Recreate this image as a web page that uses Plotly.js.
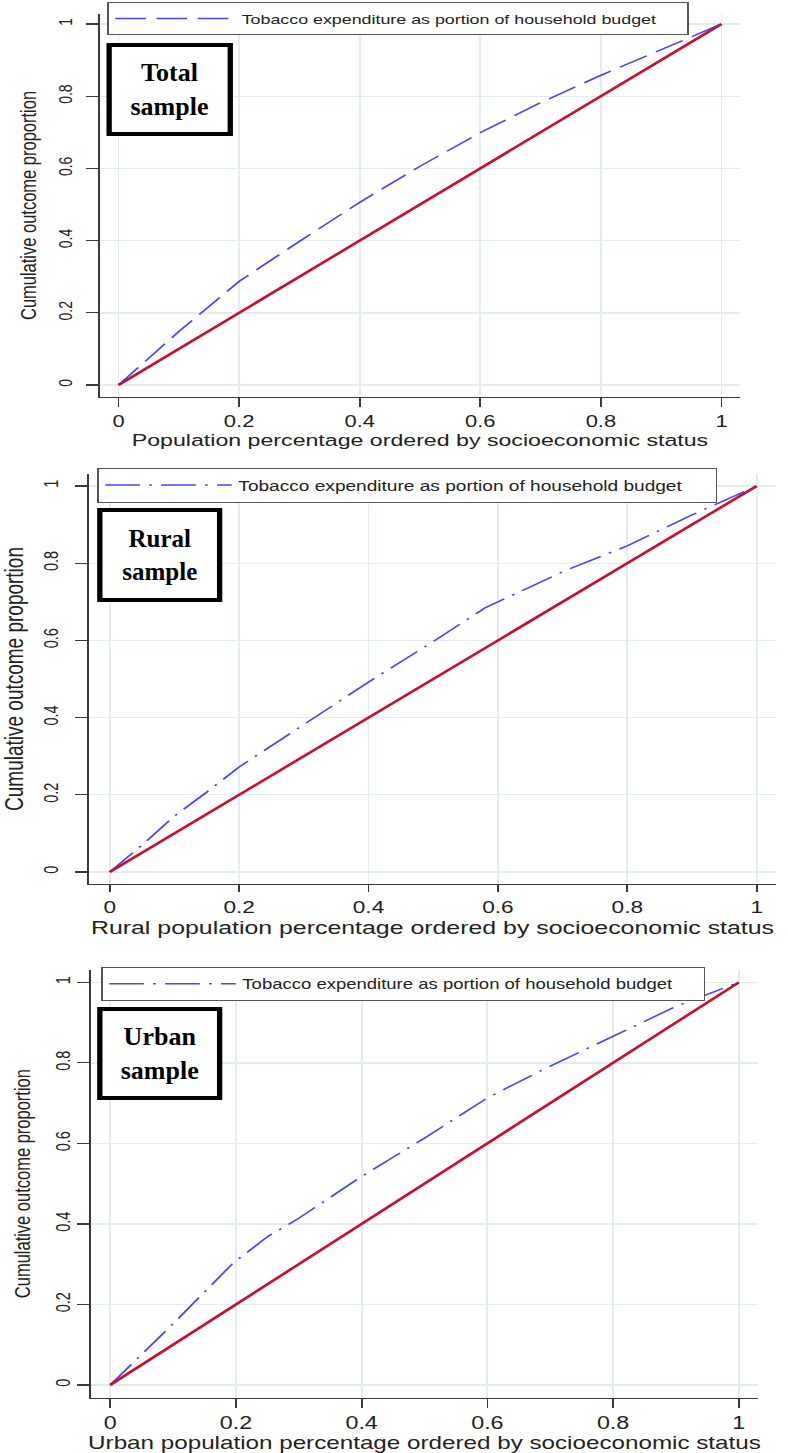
<!DOCTYPE html>
<html>
<head>
<meta charset="utf-8">
<script src="https://cdn.plot.ly/plotly-3.0.1.min.js"></script>
<style>
  html, body { margin: 0; padding: 0; background: #ffffff; overflow: hidden; }
  #wrap { width: 788px; height: 1453px; overflow: hidden; }
  #plot { width: 592px; height: 1453px; transform: scaleX(1.33108); transform-origin: 0 0; }
  /* the boxed panel labels are not stretched in the original */
  #plot .annotation-text { transform: scaleX(0.7513); transform-box: fill-box; transform-origin: center; }
</style>
</head>
<body>
<div id="wrap"><div id="plot"></div></div>
<script>
// ---------------- data ----------------
const tickVals = [0, 0.2, 0.4, 0.6, 0.8, 1];
const tickText = ['0', '0.2', '0.4', '0.6', '0.8', '1'];

const popTotal   = [0, 0.1, 0.2, 0.3, 0.4, 0.5, 0.6, 0.7, 0.8, 0.9, 1];
const shareTotal = [0, 0.148, 0.287, 0.398, 0.506, 0.606, 0.699, 0.782, 0.858, 0.930, 1];

const popRural   = [0, 0.05, 0.1, 0.15, 0.2, 0.3, 0.4, 0.5, 0.58, 0.7, 0.8, 0.9, 1];
const shareRural = [0, 0.070, 0.145, 0.207, 0.272, 0.382, 0.492, 0.597, 0.684, 0.778, 0.845, 0.925, 1];

const popUrban   = [0, 0.1, 0.195, 0.25, 0.3, 0.4, 0.5, 0.6, 0.7, 0.8, 0.9, 1];
const shareUrban = [0, 0.152, 0.302, 0.368, 0.414, 0.518, 0.613, 0.713, 0.792, 0.867, 0.940, 1];

const equalityLine = [0, 1];

const seriesName = 'Tobacco expenditure as portion of household budget';
const xTitles = [
  'Population percentage ordered by socioeconomic status',
  'Rural population percentage ordered by socioeconomic status',
  'Urban population percentage ordered by socioeconomic status'
];
const yTitle = 'Cumulative outcome proportion';
const panelLabels = ['Total<br>sample', 'Rural<br>sample', 'Urban<br>sample'];

// ---------------- style ----------------
const SANS = 'Liberation Sans, Arial, sans-serif';
const SERIF = 'Liberation Serif, Times New Roman, serif';
const AX = '#3a3a3a';
const GRID = '#e3edf0';
const BLUE = '#4646ff';
const RED = '#c8102e';
const W = 788, H = 1453;
const px = v => v / W;
const py = v => 1 - v / H;

function xAxis(domain, range, anchor, tickSize, tickLen, title, titleSize, standoff) {
  return {
    domain: domain, range: range, anchor: anchor,
    tickmode: 'array', tickvals: tickVals, ticktext: tickText,
    showline: true, linecolor: AX, linewidth: 1.3, mirror: false,
    ticks: 'outside', ticklen: tickLen, tickwidth: 1.3, tickcolor: AX,
    showgrid: true, gridcolor: GRID, gridwidth: 1.4, zeroline: false,
    tickfont: {family: SANS, size: tickSize, color: '#222'},
    ticklabelstandoff: 0,
    title: {text: title, font: {family: SANS, size: titleSize, color: '#222'}, standoff: standoff},
    fixedrange: true, automargin: false
  };
}
function yAxis(domain, range, anchor, tickSize, labelStandoff, titleSize, standoff) {
  return {
    domain: domain, range: range, anchor: anchor,
    tickmode: 'array', tickvals: tickVals, ticktext: tickText,
    showline: true, linecolor: AX, linewidth: 1.3, mirror: false,
    ticks: 'outside', ticklen: 9, tickwidth: 1.3, tickcolor: AX,
    showgrid: true, gridcolor: GRID, gridwidth: 1.4, zeroline: false,
    tickangle: -90,
    tickfont: {family: SANS, size: tickSize, color: '#222'},
    ticklabelstandoff: labelStandoff,
    title: {text: yTitle, font: {family: SANS, size: titleSize, color: '#222'}, standoff: standoff},
    fixedrange: true, automargin: false
  };
}
function legendBox(x, y, size, itemW, entry) {
  return {
    x: x, y: y, xanchor: 'left', yanchor: 'top', orientation: 'h',
    bgcolor: '#ffffff', bordercolor: '#555555', borderwidth: 1.2,
    font: {family: SANS, size: size, color: '#222'},
    itemwidth: itemW, entrywidth: entry, entrywidthmode: 'pixels',
    itemclick: false, itemdoubleclick: false
  };
}
function labelBox(text, left, top, width, height, size) {
  return {
    xref: 'paper', yref: 'paper', x: px(left), y: py(top),
    xanchor: 'left', yanchor: 'top', showarrow: false,
    text: text, align: 'center', valign: 'middle',
    width: width, height: height,
    font: {family: SERIF, size: size, color: '#000', weight: 'bold'},
    bgcolor: '#ffffff', bordercolor: '#000000', borderwidth: 4, borderpad: 0
  };
}

const traces = [
  {x: popTotal, y: shareTotal, xaxis: 'x', yaxis: 'y', mode: 'lines', name: seriesName,
   line: {color: BLUE, width: 1.5, dash: '23px,8px'}, legend: 'legend', hoverinfo: 'skip'},
  {x: equalityLine, y: equalityLine, xaxis: 'x', yaxis: 'y', mode: 'lines', showlegend: false,
   line: {color: RED, width: 2.4}, hoverinfo: 'skip'},

  {x: popRural, y: shareRural, xaxis: 'x2', yaxis: 'y2', mode: 'lines', name: seriesName,
   line: {color: BLUE, width: 1.5, dash: '26px,7px,2px,7px'}, legend: 'legend2', hoverinfo: 'skip'},
  {x: equalityLine, y: equalityLine, xaxis: 'x2', yaxis: 'y2', mode: 'lines', showlegend: false,
   line: {color: RED, width: 2.4}, hoverinfo: 'skip'},

  {x: popUrban, y: shareUrban, xaxis: 'x3', yaxis: 'y3', mode: 'lines', name: seriesName,
   line: {color: BLUE, width: 1.5, dash: '26px,7px,2px,7px'}, legend: 'legend3', hoverinfo: 'skip'},
  {x: equalityLine, y: equalityLine, xaxis: 'x3', yaxis: 'y3', mode: 'lines', showlegend: false,
   line: {color: RED, width: 2.4}, hoverinfo: 'skip'}
];

const layout = {
  width: 592, height: 1453,
  margin: {l: 0, r: 0, t: 0, b: 0, pad: 0, autoexpand: false},
  paper_bgcolor: '#ffffff', plot_bgcolor: '#ffffff',
  showlegend: true,
  font: {family: SANS, color: '#222'},

  xaxis:  xAxis([px(100), px(740)], [-0.0307, 1.0307], 'y', 16.5, 9, xTitles[0], 17.4, 4),
  yaxis:  yAxis([py(397), py(14)], [-0.0332, 1.0277], 'x', 14, 5, 16.5, 8.7),
  xaxis2: xAxis([px(89), px(776)], [-0.032, 1.0298], 'y2', 17, 7, xTitles[1], 18.7, 4),
  yaxis2: yAxis([py(884), py(474)], [-0.0311, 1.0311], 'x2', 14.5, 7, 19, 16),
  xaxis3: xAxis([px(91), px(758)], [-0.0305, 1.0305], 'y3', 17.5, 9, xTitles[2], 18.2, 10),
  yaxis3: yAxis([py(1397.7), py(969.6)], [-0.0315, 1.0315], 'x3', 14.5, 3.5, 16.5, 11.7),

  legend:  legendBox(px(107), py(2), 13.4, 90, 329),
  legend2: legendBox(px(97), py(468), 14.35, 95, 353),
  legend3: legendBox(px(101), py(967), 13.9, 95, 341),

  annotations: [
    labelBox(panelLabels[0], 106, 43, 86.7, 85, 26),
    labelBox(panelLabels[1], 97, 508, 86, 86, 25),
    labelBox(panelLabels[2], 97, 1007, 86, 85, 26)
  ]
};

Plotly.newPlot('plot', traces, layout, {displayModeBar: false, staticPlot: true, responsive: false});
</script>
</body>
</html>
